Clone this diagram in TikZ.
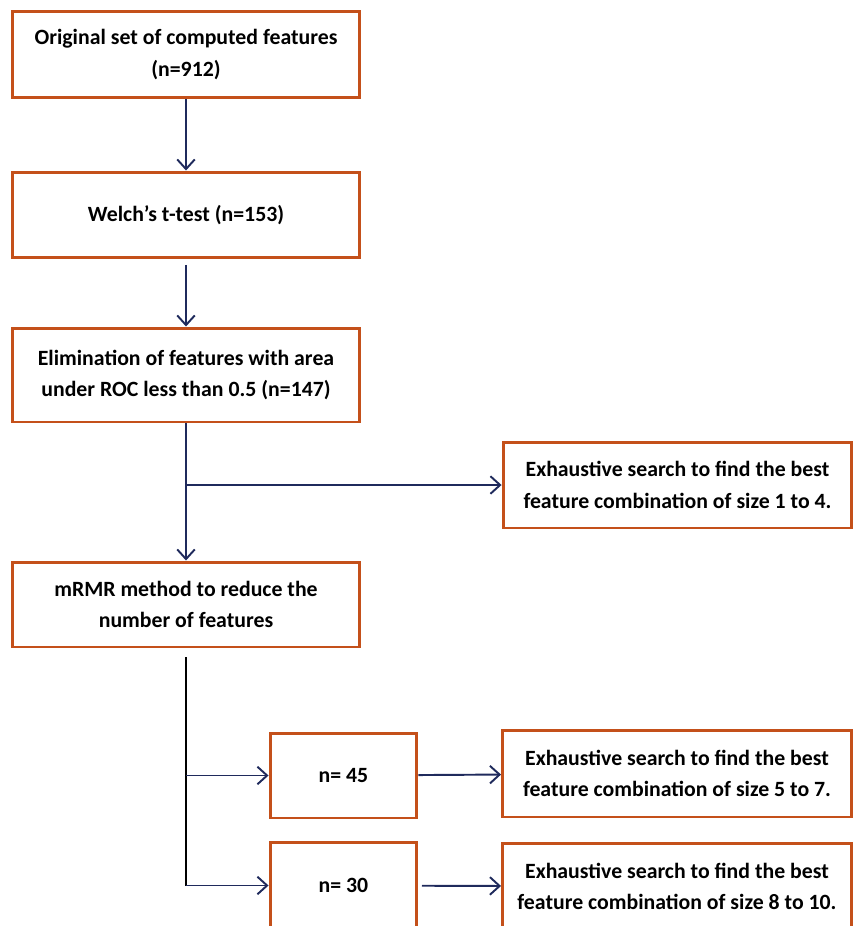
\documentclass[tikz,border=0pt]{standalone}
\usepackage{fontspec}
\setmainfont{Carlito}
\usetikzlibrary{arrows.meta,positioning}
\definecolor{boxedge}{HTML}{C4501A}
\definecolor{arrowblue}{HTML}{1F2A5C}

\begin{document}
\begin{tikzpicture}[
  x=0.02cm, y=-0.02cm,
  font=\fontsize{12.4}{18}\selectfont\bfseries,
  stepbox/.style={draw=boxedge, line width=1.7pt, align=center, inner sep=0pt,
    minimum width=6.96cm, minimum height=1.72cm},
  sidebox/.style={stepbox, minimum width=6.98cm},
  countbox/.style={stepbox, minimum width=2.94cm},
  flow/.style={draw=arrowblue, line width=1.1pt, -{Straight Barb[length=5.5pt,width=10pt]}},
  trunk/.style={draw=black, line width=1.5pt}
]
\useasboundingbox (0,0) rectangle (853,926);
\clip (0,0) rectangle (853,926);

% main column
\node[stepbox, minimum height=1.74cm] (orig) at (186,54.5) {Original set of computed features\\(n=912)};
\node[stepbox] (welch) at (186,215) {Welch's t-test (n=153)};
\node[stepbox, minimum height=1.88cm] (auc) at (186,375) {Elimination of features with area\\under ROC less than 0.5 (n=147)};
\node[stepbox, minimum height=1.70cm] (mrmr) at (186,604.5) {mRMR method to reduce the\\number of features};

% side branches
\node[sidebox] (exh14) at (677.5,485) {Exhaustive search to find the best\\feature combination of size 1 to 4.};
\node[countbox, minimum height=1.70cm] (n45) at (343.5,775.5) {n= 45};
\node[sidebox, minimum height=1.74cm] (exh57) at (677,773.5) {Exhaustive search to find the best\\feature combination of size 5 to 7.};
\node[countbox] (n30) at (343.5,885.5) {n= 30};
\node[sidebox] (exh810) at (677,886.5) {Exhaustive search to find the best\\feature combination of size 8 to 10.};

% connectors
\coordinate (fork1) at (auc.south |- exh14.west);
\coordinate (fork2) at (mrmr.south |- n30.west);
\draw[flow] (orig) -- (welch);
\draw[flow, shorten <=3pt] (welch) -- (auc);
\draw[flow] (auc) -- (mrmr);
\draw[flow] (fork1) -- (exh14);
\draw[trunk, shorten <=5pt] (mrmr.south) -- (fork2);
\draw[flow] (mrmr.south |- n45.west) -- (n45);
\draw[flow] (fork2) -- (n30);
\draw[flow] (n45) -- (exh57);
\draw[flow, shorten <=2pt] (n30) -- (exh810);

\end{tikzpicture}
\end{document}
